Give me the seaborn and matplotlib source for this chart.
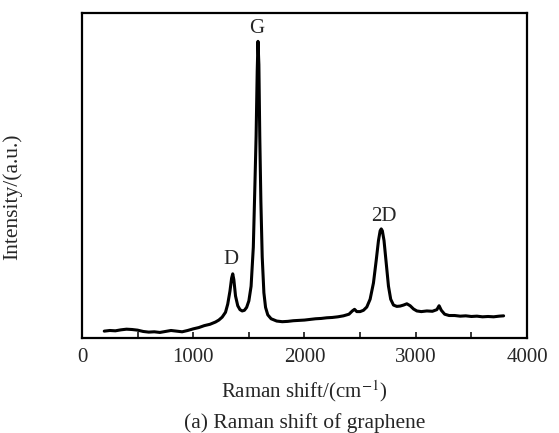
import pandas as pd
import seaborn as sns
import matplotlib.pyplot as plt
from matplotlib.ticker import MultipleLocator

sns.set_style("white")
plt.rcParams['font.family'] = ['Liberation Serif', 'DejaVu Serif']
plt.rcParams['mathtext.fontset'] = 'stix'

# Raman spectrum (intensity in arbitrary units, 0-100)
raman_shift = [200, 250, 300, 350, 400, 450, 500, 550, 600, 650, 700, 750, 800, 850,
               900, 950, 1000, 1050, 1100, 1150, 1200, 1230, 1260, 1290, 1310, 1330,
               1345, 1355, 1365, 1380, 1400, 1420, 1440, 1460, 1480, 1500, 1520, 1540,
               1555, 1565, 1575, 1582, 1590, 1598, 1608, 1620, 1635, 1650, 1670, 1700,
               1750, 1800, 1850, 1900, 1950, 2000, 2050, 2100, 2150, 2200, 2250, 2300,
               2350, 2400, 2430, 2450, 2470, 2500, 2530, 2560, 2590, 2620, 2645, 2665,
               2680, 2690, 2700, 2715, 2735, 2755, 2775, 2800, 2830, 2860, 2890, 2920,
               2950, 2980, 3010, 3050, 3100, 3150, 3190, 3210, 3230, 3260, 3300, 3350,
               3400, 3450, 3500, 3550, 3600, 3650, 3700, 3750, 3790]
intensity = [2.2, 2.4, 2.3, 2.6, 2.8, 2.7, 2.5, 2.1, 1.9, 2.0, 1.8, 2.1, 2.4, 2.2,
             2.0, 2.4, 2.9, 3.3, 3.9, 4.3, 5.0, 5.6, 6.5, 8.0, 10.5, 14.5,
             18.5, 19.8, 18.0, 13.0, 10.0, 8.8, 8.4, 8.6, 9.5, 11.5, 16.0, 28.0,
             48.0, 62.0, 82.0, 91.2, 84.0, 62.0, 42.0, 25.0, 14.0, 9.5, 7.2, 6.0,
             5.3, 5.1, 5.2, 5.4, 5.5, 5.6, 5.8, 6.0, 6.1, 6.3, 6.4, 6.6,
             6.9, 7.4, 8.4, 8.9, 8.2, 8.2, 8.6, 9.6, 12.0, 17.0, 24.0, 30.0,
             33.0, 33.6, 33.0, 30.0, 23.0, 16.0, 12.0, 10.2, 9.8, 9.9, 10.2, 10.6,
             10.0, 9.0, 8.4, 8.2, 8.4, 8.3, 8.8, 10.0, 8.6, 7.4, 7.0, 7.0,
             6.8, 6.9, 6.7, 6.8, 6.6, 6.7, 6.6, 6.8, 6.9]

peak_names = ['D', 'G', '2D']
peak_x = [1340, 1573, 2710]
peak_y = [24.3, 95.2, 37.4]

df = pd.DataFrame({'shift': raman_shift, 'intensity': intensity})

fig = plt.figure(figsize=(5.59, 4.33), dpi=100)
ax = fig.add_axes([0.1467, 0.2187, 0.796, 0.752])
sns.lineplot(data=df, x='shift', y='intensity', color='black', linewidth=2.2,
             estimator=None, ax=ax)

for name, px, py in zip(peak_names, peak_x, peak_y):
    ax.text(px, py, name, ha='center', va='center', fontsize=15)

ax.set_xlim(0, 4000)
ax.set_ylim(0, 100)
ax.xaxis.set_major_locator(MultipleLocator(1000))
ax.xaxis.set_minor_locator(MultipleLocator(500))
ax.tick_params(axis='x', which='both', direction='in', length=4, width=1.3,
               bottom=True, labelsize=15, pad=7)
ax.set_yticks([])
for sp in ax.spines.values():
    sp.set_color('black')
    sp.set_linewidth(1.6)

ax.set_xlabel('Raman shift/(cm$^{-1}$)', fontsize=15, labelpad=8)
ax.set_ylabel('Intensity/(a.u.)', fontsize=15.5)
ax.yaxis.set_label_coords(-0.135, 0.436)
fig.text(0.545, 0.023, '(a) Raman shift of graphene', ha='center', va='center',
         fontsize=15.5)

fig.savefig('out.png', dpi=100)
